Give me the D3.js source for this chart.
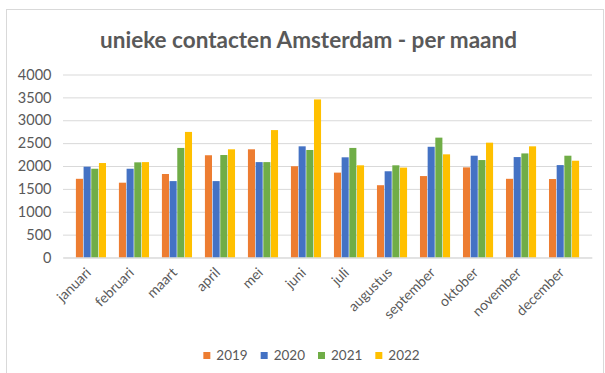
<!DOCTYPE html>
<html>
<head>
<meta charset="utf-8">
<script src="https://cdn.jsdelivr.net/npm/d3@7"></script>
<style>
  html, body { margin: 0; padding: 0; background: #ffffff; }
  svg { display: block; }
  text { font-family: Lato, "Open Sans", sans-serif; fill: #595959; }
</style>
</head>
<body>
<svg id="chart" width="605" height="373"></svg>
<script>
// Monthly unique contacts, Amsterdam, 2019-2022
const months = ["januari", "februari", "maart", "april", "mei", "juni", "juli",
                "augustus", "september", "oktober", "november", "december"];
const years = ["2019", "2020", "2021", "2022"];
const values2019 = [1720, 1635, 1825, 2235, 2365, 1995, 1855, 1580, 1780, 1970, 1720, 1715];
const values2020 = [1985, 1940, 1670, 1670, 2085, 2430, 2190, 1885, 2420, 2225, 2195, 2020];
const values2021 = [1940, 2080, 2395, 2240, 2085, 2350, 2395, 2015, 2620, 2130, 2275, 2225];
const values2022 = [2065, 2085, 2745, 2365, 2785, 3455, 2015, 1965, 2255, 2510, 2430, 2115];
const yTicks = [0, 500, 1000, 1500, 2000, 2500, 3000, 3500, 4000];
const colors = ["#ED7D31", "#4472C4", "#70AD47", "#FFC000"];
const title = "unieke contacten Amsterdam - per maand";

const seriesValues = [values2019, values2020, values2021, values2022];
const rows = months.map((m, i) => ({
  month: m,
  values: years.map((y, k) => ({ year: y, value: seriesValues[k][i] }))
}));

const svg = d3.select("#chart");

// outer frame
svg.append("rect")
  .attr("x", 6.5).attr("y", 9.5)
  .attr("width", 597).attr("height", 380)
  .attr("fill", "#ffffff")
  .attr("stroke", "#d9d9d9");

const plot = { left: 63, right: 592, top: 74.5, bottom: 257.5 };

const x0 = d3.scaleBand().domain(months).range([plot.left, plot.right]).padding(0.3);
const x1 = d3.scaleBand().domain(years).range([0, x0.bandwidth()]).paddingInner(0.08);
const y = d3.scaleLinear().domain([0, 4000]).range([plot.bottom, plot.top]);

// gridlines + y labels
const yAxis = d3.axisLeft(y).tickValues(yTicks).tickFormat(d3.format("d"))
  .tickSize(-(plot.right - plot.left)).tickPadding(11.5);
const gy = svg.append("g").attr("transform", `translate(${plot.left},0)`).call(yAxis);
gy.select(".domain").remove();
gy.selectAll(".tick line").attr("stroke", "#d9d9d9").attr("stroke-width", 1);
gy.selectAll(".tick text")
  .attr("fill", "#595959")
  .style("font-size", "14.5px")
  .style("font-family", "Lato, 'Open Sans', sans-serif");

// bars
const groups = svg.append("g").selectAll("g")
  .data(rows).join("g")
  .attr("transform", d => `translate(${x0(d.month)},0)`);
groups.selectAll("rect")
  .data(d => d.values).join("rect")
  .attr("x", d => x1(d.year))
  .attr("width", x1.bandwidth())
  .attr("y", d => y(d.value))
  .attr("height", d => y(0) - y(d.value))
  .attr("fill", (d, k) => colors[k]);

// x axis labels, rotated
const xAxis = d3.axisBottom(x0).tickSize(0).tickPadding(0);
const gx = svg.append("g").attr("transform", `translate(0,${plot.bottom})`).call(xAxis);
gx.select(".domain").attr("stroke", "#d9d9d9");
gx.selectAll(".tick text")
  .attr("fill", "#595959")
  .style("font-size", "14px")
  .style("font-family", "Lato, 'Open Sans', sans-serif")
  .attr("text-anchor", "end")
  .attr("dy", null)
  .attr("y", 0)
  .attr("transform", "translate(1,16) rotate(-45)");

// title, sized to its measured width
const t = svg.append("text")
  .attr("x", 308.5).attr("y", 47.5)
  .attr("text-anchor", "middle")
  .style("font-weight", "bold")
  .style("font-size", "22px")
  .text(title);
const tw = t.node().getComputedTextLength();
t.style("font-size", (22 * 417 / tw).toFixed(2) + "px");

// legend
const legend = svg.append("g");
let lx = 0;
years.forEach((yr, k) => {
  const item = legend.append("g").attr("transform", `translate(${lx},0)`);
  item.append("rect").attr("x", 0).attr("y", -8).attr("width", 7).attr("height", 7).attr("fill", colors[k]);
  const txt = item.append("text").attr("x", 13).attr("y", 0)
    .style("font-size", "13.5px").text(yr);
  lx += 13 + txt.node().getComputedTextLength() + 13;
});
const legendWidth = lx - 13;
legend.attr("transform", `translate(${311.5 - legendWidth / 2},360)`);
</script>
</body>
</html>
